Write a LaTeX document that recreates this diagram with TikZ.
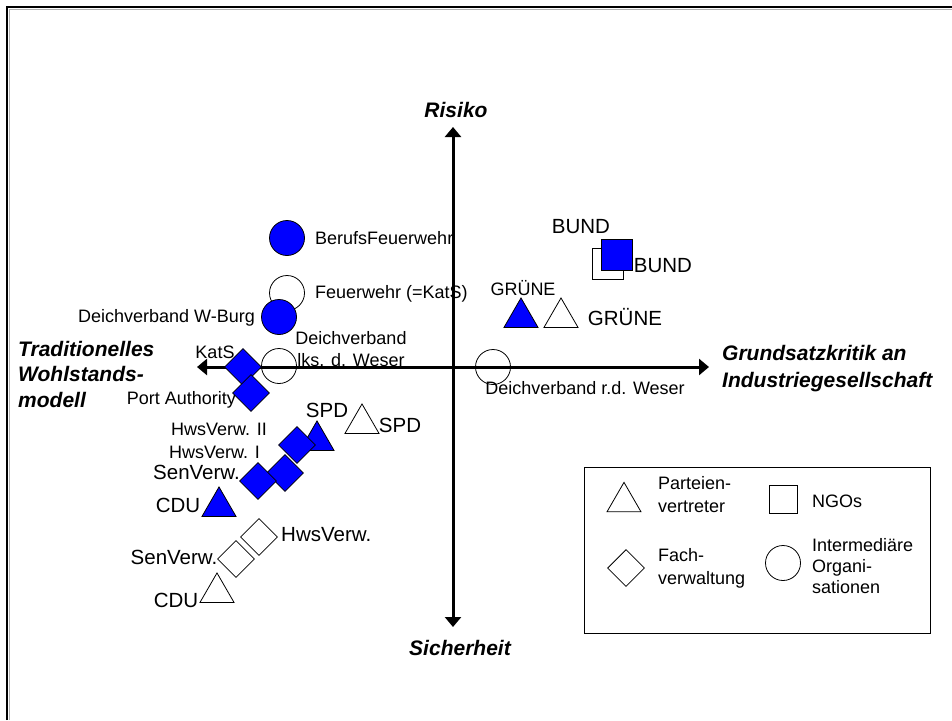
\documentclass[tikz,border=0pt]{standalone}
\usepackage{fontspec}
\setmainfont{Liberation Sans}
\usetikzlibrary{arrows.meta,shapes.geometric}
\definecolor{mblue}{RGB}{0,0,255}
\begin{document}
\begin{tikzpicture}[x=1pt,y=-1pt,
  lbl/.style={inner sep=0pt, font=\fontsize{18}{22}\selectfont},
  big/.style={inner sep=0pt, font=\fontsize{20.5}{24}\selectfont},
  axl/.style={inner sep=0pt, font=\fontsize{21}{27}\selectfont\bfseries\itshape, align=left},
  circ/.style={circle, draw, line width=0.8pt, minimum size=35pt, inner sep=0pt},
  dia/.style={diamond, draw, line width=0.8pt, minimum width=37pt, minimum height=37pt, inner sep=0pt},
  tri/.style={regular polygon, regular polygon sides=3, draw, line width=0.8pt, minimum size=39.3pt, inner sep=0pt},
  sq/.style={rectangle, draw, line width=0.8pt, minimum size=31pt, inner sep=0pt},
  bfill/.style={fill=mblue},
  wfill/.style={fill=white},
  axisline/.style={line width=3pt, {Triangle[length=10pt,width=16pt]}-{Triangle[length=10pt,width=16pt]}}]
\useasboundingbox (0,0) rectangle (952,720);
\fill[white] (0,0) rectangle (952,720);
% frame
\draw[line width=2.5pt] (7,720) -- (7,7) -- (952,7);
\draw[gray!60, line width=1pt] (9.8,720) -- (9.8,9.8) -- (952,9.8);

% circles (intermediary organisations)
\node[circ,bfill] (beruf) at (287,238) {};
\node[circ,wfill] (feuer) at (287,293) {};
\node[circ,bfill] (wburg) at (279,317) {};
\node[circ] (lks) at (279,366) {};
\node[circ] (rd) at (493,367) {};

% texts
\node[lbl,anchor=west] (tberuf) at (315,238) {BerufsFeuerwehr};
\node[lbl,anchor=west] (tfeuer) at (315,294) {Feuerwehr (=KatS)};
\node[lbl,anchor=east] (twburg) at (255,318) {Deichverband W-Burg};
\node[lbl,align=center] (tlks) at (351,349) {Deichverband\\lks. d. Weser};
\node[lbl] (trd) at (585,388) {Deichverband r.d. Weser};
\node[lbl] (tkats) at (215,352) {KatS};
\node[lbl,anchor=east] (tport) at (236,400) {Port Authority};
\node[lbl,anchor=east] (thws2) at (267,429) {HwsVerw. II};
\node[lbl,anchor=east] (thws1) at (260,452) {HwsVerw. I};
\node[big,anchor=west] (tsen1) at (153,472) {SenVerw.};
\node[big] (tcdu1) at (178,505) {CDU};
\node[big] (tspd1) at (327,410) {SPD};
\node[big] (tspd2) at (400,425) {SPD};
\node[lbl] (tgr1) at (523,288) {GRÜNE};
\node[big] (tgr2) at (625,317) {GRÜNE};
\node[big] (tbund1) at (581,227) {BUND};
\node[big] (tbund2) at (663,266) {BUND};
\node[big,anchor=west] (thws) at (281,535) {HwsVerw.};
\node[big] (tsen2) at (174,557) {SenVerw.};
\node[big] (tcdu2) at (176,600) {CDU};

% axes
\coordinate (xl) at (197,367);
\coordinate (xr) at (709,367);
\coordinate (yt) at (453,127);
\coordinate (yb) at (453,627);
\draw[axisline] (xl) -- (xr);
\draw[axisline] (yt) -- (yb);
\node[axl] (risiko) at (456,110) {Risiko};
\node[axl] (sicher) at (460,648) {Sicherheit};
\node[axl,anchor=west] (grund) at (722,369) {Grundsatzkritik an\\Industriegesellschaft};
\node[axl,anchor=west,font=\fontsize{21}{25.5}\selectfont\bfseries\itshape] (trad) at (18,374) {Traditionelles\\Wohlstands-\\modell};

% triangles (party representatives)
\node[tri,bfill] (spdb) at (317,440.6) {};
\node[tri,bfill] (grb) at (521,317.6) {};
\node[tri,bfill] (cdub) at (219,506.6) {};
\node[tri,wfill] (spdw) at (362,423.6) {};
\node[tri,wfill] (grw) at (561,317.6) {};
\node[tri,wfill] (cduw) at (217,592.6) {};

% diamonds (administration)
\node[dia,bfill] (katsd) at (243,367) {};
\node[dia,bfill] (portd) at (251,393) {};
\node[dia,bfill] (hws1d) at (285,473) {};
\node[dia,bfill] (hws2d) at (297,445) {};
\node[dia,bfill] (send) at (258,481) {};
\node[dia,wfill] (hwsw) at (259,537) {};
\node[dia,wfill] (senw) at (236,559) {};

% squares (NGOs)
\node[sq,wfill] (bundw) at (607.5,263.5) {};
\node[sq,bfill] (bundb) at (616.5,255) {};

% legend
\node[draw,line width=1.2pt,minimum width=346pt,minimum height=166pt,inner sep=0pt,anchor=north west] (legend) at (584,467) {};
\node[tri,wfill] (ltri) at (624,502) {};
\node[lbl,anchor=west,align=left,font=\fontsize{18}{23}\selectfont] (ltrit) at (658,494.5) {Parteien-\\vertreter};
\node[sq,minimum size=28pt] (lsq) at (783.5,499.5) {};
\node[lbl,anchor=west] (lsqt) at (812,501) {NGOs};
\node[dia,wfill] (ldia) at (626,568) {};
\node[lbl,anchor=west,align=left,font=\fontsize{18}{23}\selectfont] (ldiat) at (658,568.5) {Fach-\\verwaltung};
\node[circ] (lcirc) at (783,563) {};
\node[lbl,anchor=west,align=left,font=\fontsize{18}{21}\selectfont] (lcirct) at (812,566) {Intermediäre\\Organi-\\sationen};
\end{tikzpicture}
\end{document}
